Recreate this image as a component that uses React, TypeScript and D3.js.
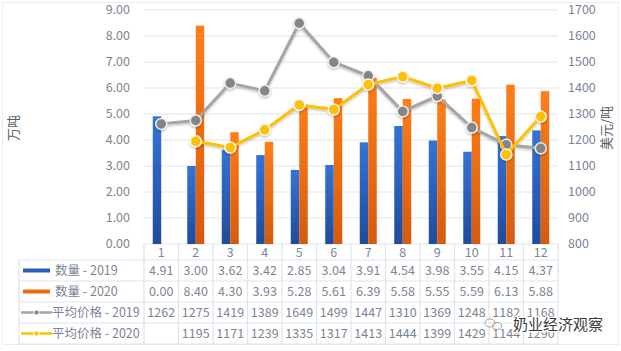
import React from "react";
import * as d3 from "d3";

const months = ["1", "2", "3", "4", "5", "6", "7", "8", "9", "10", "11", "12"];
const qty2019 = [4.91, 3.0, 3.62, 3.42, 2.85, 3.04, 3.91, 4.54, 3.98, 3.55, 4.15, 4.37];
const qty2020 = [0.0, 8.4, 4.3, 3.93, 5.28, 5.61, 6.39, 5.58, 5.55, 5.59, 6.13, 5.88];
const price2019 = [1262, 1275, 1419, 1389, 1649, 1499, 1447, 1310, 1369, 1248, 1182, 1168];
const price2020: (number | null)[] = [null, 1195, 1171, 1239, 1335, 1317, 1413, 1444, 1399, 1429, 1144, 1290];
const leftTicks = [0, 1, 2, 3, 4, 5, 6, 7, 8, 9];
const rightTicks = [800, 900, 1000, 1100, 1200, 1300, 1400, 1500, 1600, 1700];
const seriesNames = ["数量 - 2019", "数量 - 2020", "平均价格 - 2019", "平均价格 - 2020"];

const W = 621;
const H = 351;
const plotL = 144;
const plotR = 558;
const plotT = 10;
const plotB = 244;
const tableL = 19;
const rowTops = [260, 281, 302, 323, 344];
const font = "'Noto Sans CJK SC', 'Noto Sans', sans-serif";
const textColor = "#7b8594";
const gridColor = "#dfe4ea";

const App = () => {
  const x = d3.scaleBand().domain(months).range([plotL, plotR]).padding(0);
  const xs = d3.scaleBand().domain(["2019", "2020"]).range([0, x.bandwidth()]).paddingInner(0).paddingOuter(1.03);
  const yL = d3.scaleLinear().domain([0, 9]).range([plotB, plotT]);
  const yR = d3.scaleLinear().domain([800, 1700]).range([plotB, plotT]);
  const cx = (m: string) => (x(m) as number) + x.bandwidth() / 2;

  const line = d3
    .line<number | null>()
    .defined((d) => d !== null)
    .x((_, i) => cx(months[i]))
    .y((d) => yR(d as number));

  const rows = [
    qty2019.map((v) => v.toFixed(2)),
    qty2020.map((v) => v.toFixed(2)),
    price2019.map((v) => String(v)),
    price2020.map((v) => (v === null ? "" : String(v))),
  ];

  const legendMark = (i: number, yc: number) => {
    if (i === 0) return <rect x={23} y={yc - 2} width={27} height={4} fill="#2b5cc0" />;
    if (i === 1) return <rect x={23} y={yc - 2} width={27} height={4} fill="#ee6a12" />;
    const c = i === 2 ? "#a5a5a5" : "#ffc000";
    const dc = i === 2 ? "#888" : "#ffc000";
    return (
      <g>
        <line x1={21} x2={52} y1={yc} y2={yc} stroke={c} strokeWidth={2.5} />
        <circle cx={36.5} cy={yc} r={2.6} fill={dc} stroke="#fff" strokeWidth={1} />
      </g>
    );
  };

  return (
    <svg width={W} height={H} style={{ position: "absolute", left: 0, top: 0, background: "#fff" }} fontFamily={font}>
      <defs>
        <linearGradient id="gBlue" x1="0" x2="0" y1="0" y2="1">
          <stop offset="0%" stopColor="#3573d9" />
          <stop offset="100%" stopColor="#1f4c9c" />
        </linearGradient>
        <linearGradient id="gOrange" x1="0" x2="0" y1="0" y2="1">
          <stop offset="0%" stopColor="#ff7e17" />
          <stop offset="100%" stopColor="#d65a0c" />
        </linearGradient>
        <filter id="shadow" x="-10%" y="-10%" width="120%" height="130%">
          <feDropShadow dx="0" dy="1.5" stdDeviation="1.2" floodColor="#000" floodOpacity="0.25" />
        </filter>
      </defs>
      <rect x={2.5} y={2.5} width={616} height={342} fill="none" stroke="#e8ebef" />

      {/* gridlines */}
      {leftTicks.map((t) => (
        <line key={t} x1={plotL} x2={plotR} y1={yL(t)} y2={yL(t)} stroke={gridColor} strokeWidth={1.2} />
      ))}

      {/* left axis */}
      {leftTicks.map((t) => (
        <text key={t} x={130} y={yL(t)} dy="0.35em" textAnchor="end" fontSize={12.5} fill={textColor}>
          {t.toFixed(2)}
        </text>
      ))}
      {/* right axis */}
      {rightTicks.map((t) => (
        <text key={t} x={568} y={yR(t)} dy="0.35em" textAnchor="start" fontSize={12.5} fill={textColor}>
          {t}
        </text>
      ))}
      <text transform="translate(13,128) rotate(-90)" textAnchor="middle" dy="0.35em" fontSize={13} fill="#555d69">
        万吨
      </text>
      <text transform="translate(606,128) rotate(-90)" textAnchor="middle" dy="0.35em" fontSize={13} fill="#555d69">
        美元/吨
      </text>

      {/* bars */}
      {months.map((m, i) => (
        <g key={m}>
          <rect
            x={(x(m) as number) + (xs("2019") as number)}
            y={yL(qty2019[i])}
            width={xs.bandwidth()}
            height={plotB - yL(qty2019[i])}
            fill="url(#gBlue)"
          />
          <rect
            x={(x(m) as number) + (xs("2020") as number)}
            y={yL(qty2020[i])}
            width={xs.bandwidth()}
            height={plotB - yL(qty2020[i])}
            fill="url(#gOrange)"
          />
        </g>
      ))}

      {/* lines */}
      <g filter="url(#shadow)">
        <path d={line(price2019) || ""} fill="none" stroke="#a5a5a5" strokeWidth={3} />
        {price2019.map((v, i) => (
          <circle key={i} cx={cx(months[i])} cy={yR(v)} r={5.5} fill="#858585" stroke="#eeeeee" strokeWidth={1.5} />
        ))}
        <path d={line(price2020) || ""} fill="none" stroke="#ffc000" strokeWidth={3} />
        {price2020.map((v, i) =>
          v === null ? null : (
            <circle key={i} cx={cx(months[i])} cy={yR(v)} r={5.5} fill="#ffc000" stroke="#f5f5f5" strokeWidth={1.5} />
          )
        )}
      </g>

      {/* data table */}
      <g stroke={gridColor} strokeWidth={1.2}>
        {rowTops.map((y) => (
          <line key={y} x1={tableL} x2={plotR} y1={y} y2={y} />
        ))}
        <line x1={tableL} x2={tableL} y1={rowTops[0]} y2={rowTops[4]} />
        {months.map((m) => (
          <line key={m} x1={x(m) as number} x2={x(m) as number} y1={plotB} y2={rowTops[4]} />
        ))}
        <line x1={plotR} x2={plotR} y1={plotB} y2={rowTops[4]} />
      </g>
      {months.map((m) => (
        <text key={m} x={cx(m)} y={(plotB + rowTops[0]) / 2 + 1} dy="0.35em" textAnchor="middle" fontSize={12.5} fill={textColor}>
          {m}
        </text>
      ))}
      {rows.map((r, ri) => {
        const yc = (rowTops[ri] + rowTops[ri + 1]) / 2;
        return (
          <g key={ri}>
            {legendMark(ri, yc)}
            <text x={ri < 2 ? 55 : 52} y={yc} dy="0.35em" fontSize={12.5} fill={textColor}>
              {seriesNames[ri]}
            </text>
            {r.map((v, i) => (
              <text key={i} x={cx(months[i])} y={yc} dy="0.35em" textAnchor="middle" fontSize={12.5} fill={textColor}>
                {v}
              </text>
            ))}
          </g>
        );
      })}

      {/* watermark */}
      <g transform="translate(490,323)" fill="none" stroke="#9a9a9a" strokeWidth={0.9}>
        <ellipse cx={0} cy={0} rx={5} ry={4} />
        <ellipse cx={7} cy={3} rx={4.5} ry={3.5} />
      </g>
      <text
        x={513}
        y={325}
        dy="0.35em"
        fontSize={15}
        fill="#3a3a3a"
        stroke="#fff"
        strokeWidth={2.5}
        paintOrder="stroke"
        style={{ paintOrder: "stroke" }}
      >
        奶业经济观察
      </text>
    </svg>
  );
};

export default App;
